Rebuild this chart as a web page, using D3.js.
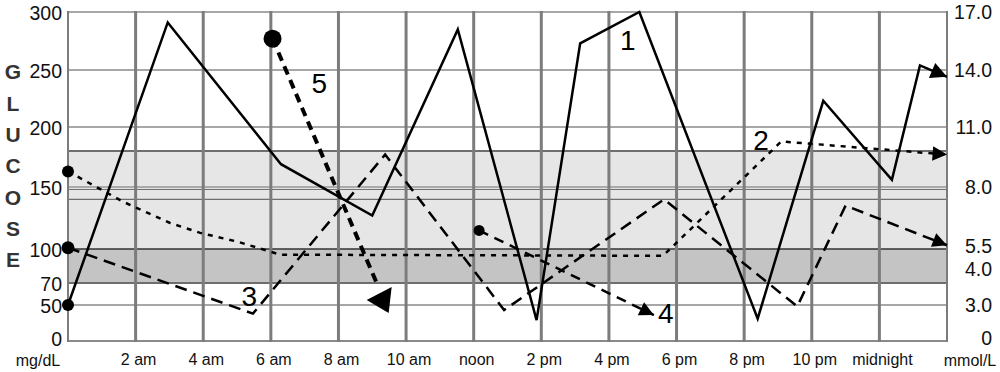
<!DOCTYPE html>
<html>
<head>
<meta charset="utf-8">
<script src="https://cdn.jsdelivr.net/npm/d3@7"></script>
<style>
  body { margin: 0; background: #fff; }
  svg { display: block; font-family: "Liberation Sans", Arial, sans-serif; }
</style>
</head>
<body>
<script>
// hours after midnight, glucose in mg/dL
var hourTicks = [2, 4, 6, 8, 10, 12, 14, 16, 18, 20, 22, 24];
var hourLabels = ["2 am", "4 am", "6 am", "8 am", "10 am", "noon", "2 pm", "4 pm", "6 pm", "8 pm", "10 pm", "midnight"];
var mgTicks = [300, 250, 200, 150, 100, 70, 50, 0];
var mmolLabels = ["17.0", "14.0", "11.0", "8.0", "5.5", "4.0", "3.0", "0"];
var mmolAt = [300, 250, 200, 150, 102.4, 82.4, 50, 4];
var title = "GLUCOSE";

var s1Hours = [0, 2.95, 6.3, 9.0, 11.53, 13.86, 15.15, 16.9, 20.4, 22.34, 24.37, 25.2, 26];
var s1Values = [50, 291, 169, 127, 285, 29, 273, 300, 31, 223, 156, 254, 244];
var s2Hours = [0, 1.64, 3.02, 3.91, 5.0, 6.28, 17.6, 21.1, 26];
var s2Values = [163, 138, 121, 113, 106, 95, 94, 188, 177];
var s3Hours = [0, 5.47, 9.38, 12.9, 17.63, 21.57, 23.0, 26];
var s3Values = [101, 38, 177, 43, 140, 48, 135, 103];
var s4Hours = [12.16, 17.33];
var s4Values = [115, 36];
var s5Hours = [6.05, 9.13];
var s5Values = [277, 70];

var labelText = ["1", "2", "3", "4", "5"];
var labelHours = [16.56, 20.5, 5.36, 17.68, 7.43];
var labelValues = [276, 189, 58, 38, 238];

var width = 1000, height = 372;

var x = d3.scaleLinear().domain([0, 26]).range([68, 947]);
var y = d3.scaleLinear()
    .domain([0, 50, 70, 100, 150, 200, 250, 300])
    .range([341, 305, 283, 249, 187, 127, 70, 12]);

var svg = d3.select("body").append("svg")
    .attr("width", width)
    .attr("height", height);

// target bands
svg.append("rect")
    .attr("x", x(0)).attr("y", y(180))
    .attr("width", x(26) - x(0)).attr("height", y(100) - y(180))
    .attr("fill", "#e6e6e6");
svg.append("rect")
    .attr("x", x(0)).attr("y", y(100))
    .attr("width", x(26) - x(0)).attr("height", y(70) - y(100))
    .attr("fill", "#c4c4c4");

// horizontal grid
var hLines = [
  {v: 300, c: "#8a8a8a", w: 1.5},
  {v: 250, c: "#8a8a8a", w: 1.5},
  {v: 200, c: "#8a8a8a", w: 1.5},
  {v: 180, c: "#6e6e6e", w: 2},
  {v: 150, c: "#6e6e6e", w: 1},
  {v: 148, c: "#6e6e6e", w: 1},
  {v: 140, c: "#6e6e6e", w: 1.2},
  {v: 100, c: "#333", w: 1.6},
  {v: 70, c: "#6e6e6e", w: 2},
  {v: 50, c: "#8a8a8a", w: 1.5},
  {v: 0, c: "#8a8a8a", w: 2}
];
svg.append("g").selectAll("line")
  .data(hLines)
  .enter().append("line")
    .attr("x1", x(0)).attr("x2", x(26))
    .attr("y1", d => y(d.v)).attr("y2", d => y(d.v))
    .attr("stroke", d => d.c)
    .attr("stroke-width", d => d.w);

// vertical grid
svg.append("g").selectAll("line")
  .data(d3.range(0, 27, 2))
  .enter().append("line")
    .attr("x1", d => x(d)).attr("x2", d => x(d))
    .attr("y1", y(300) - 1).attr("y2", y(0) + 1)
    .attr("stroke", "#7c7c7c")
    .attr("stroke-width", d => (d === 0 || d === 26) ? 2 : 3);

// left axis labels
svg.append("g").selectAll("text")
  .data(mgTicks)
  .enter().append("text")
    .attr("x", 62)
    .attr("y", d => d === 0 ? y(d) - 2 : y(d) + 1)
    .attr("dy", "0.35em")
    .attr("text-anchor", "end")
    .attr("font-size", 19.5)
    .attr("fill", "#111")
    .text(d => d);

// right axis labels
svg.append("g").selectAll("text")
  .data(mmolLabels)
  .enter().append("text")
    .attr("x", 992)
    .attr("y", (d, i) => y(mmolAt[i]))
    .attr("dy", "0.35em")
    .attr("text-anchor", "end")
    .attr("font-size", 19.5)
    .attr("fill", "#111")
    .text(d => d);

// bottom labels
svg.append("g").selectAll("text")
  .data(hourTicks)
  .enter().append("text")
    .attr("x", d => x(d) + 3)
    .attr("y", 365)
    .attr("text-anchor", "middle")
    .attr("font-size", 16)
    .attr("fill", "#111")
    .text((d, i) => hourLabels[i]);

svg.append("text").attr("x", 38).attr("y", 366)
    .attr("text-anchor", "middle").attr("font-size", 16).attr("fill", "#111")
    .text("mg/dL");
svg.append("text").attr("x", 970).attr("y", 366)
    .attr("text-anchor", "middle").attr("font-size", 16).attr("fill", "#111")
    .text("mmol/L");

// vertical title
svg.append("g").selectAll("text")
  .data(title.split(""))
  .enter().append("text")
    .attr("x", 13)
    .attr("y", (d, i) => 72 + i * 31.3)
    .attr("dy", "0.35em")
    .attr("text-anchor", "middle")
    .attr("font-size", 21)
    .attr("font-weight", "bold")
    .attr("fill", "#333")
    .text(d => d);

// arrow marker
var defs = svg.append("defs");
function marker(id, size) {
  defs.append("marker")
      .attr("id", id)
      .attr("markerUnits", "userSpaceOnUse")
      .attr("viewBox", "-20 -10 22 20")
      .attr("refX", 0).attr("refY", 0)
      .attr("markerWidth", size * 1.1).attr("markerHeight", size)
      .attr("orient", "auto")
    .append("path")
      .attr("d", "M0,0 L-18,-9 L-18,9 Z")
      .attr("fill", "#000");
}
marker("arr", 18);
marker("arrs", 16);

var line = d3.line()
    .x(d => x(d[0]))
    .y(d => y(d[1]));

function series(hours, values, dash, w, mark) {
  var pts = hours.map((h, i) => [h, values[i]]);
  var p = svg.append("path")
      .datum(pts)
      .attr("d", line)
      .attr("fill", "none")
      .attr("stroke", "#000")
      .attr("stroke-width", w)
      .attr("stroke-linejoin", "miter");
  if (dash) p.attr("stroke-dasharray", dash);
  if (mark) p.attr("marker-end", "url(#" + mark + ")");
  return pts;
}

var p1 = series(s1Hours, s1Values, null, 2.5, "arr");
var p2 = series(s2Hours, s2Values, "5,6", 2.5, "arrs");
var p3 = series(s3Hours, s3Values, "12,7", 2.5, "arrs");
var p4 = series(s4Hours, s4Values, "10,7", 2.5, "arrs");
var p5 = series(s5Hours, s5Values, "9,6", 4, null);

// start dots
var dots = [
  {p: p1[0], r: 6},
  {p: p2[0], r: 6},
  {p: p3[0], r: 6.5},
  {p: p4[0], r: 5.5},
  {p: p5[0], r: 9}
];
svg.append("g").selectAll("circle")
  .data(dots)
  .enter().append("circle")
    .attr("cx", d => x(d.p[0]))
    .attr("cy", d => y(d.p[1]))
    .attr("r", d => d.r)
    .attr("fill", "#000");

// end head of series 5
var e5 = p5[p5.length - 1];
svg.append("path")
    .attr("transform", "translate(" + x(e5[0]) + "," + y(e5[1]) + ")")
    .attr("d", "M-10,17 L15,4 L12,30 Z")
    .attr("fill", "#000");

// series numbers
svg.append("g").selectAll("text")
  .data(labelText)
  .enter().append("text")
    .attr("x", (d, i) => x(labelHours[i]))
    .attr("y", (d, i) => y(labelValues[i]))
    .attr("dy", "0.35em")
    .attr("text-anchor", "middle")
    .attr("font-size", 28)
    .attr("fill", "#000")
    .text(d => d);
</script>
</body>
</html>
